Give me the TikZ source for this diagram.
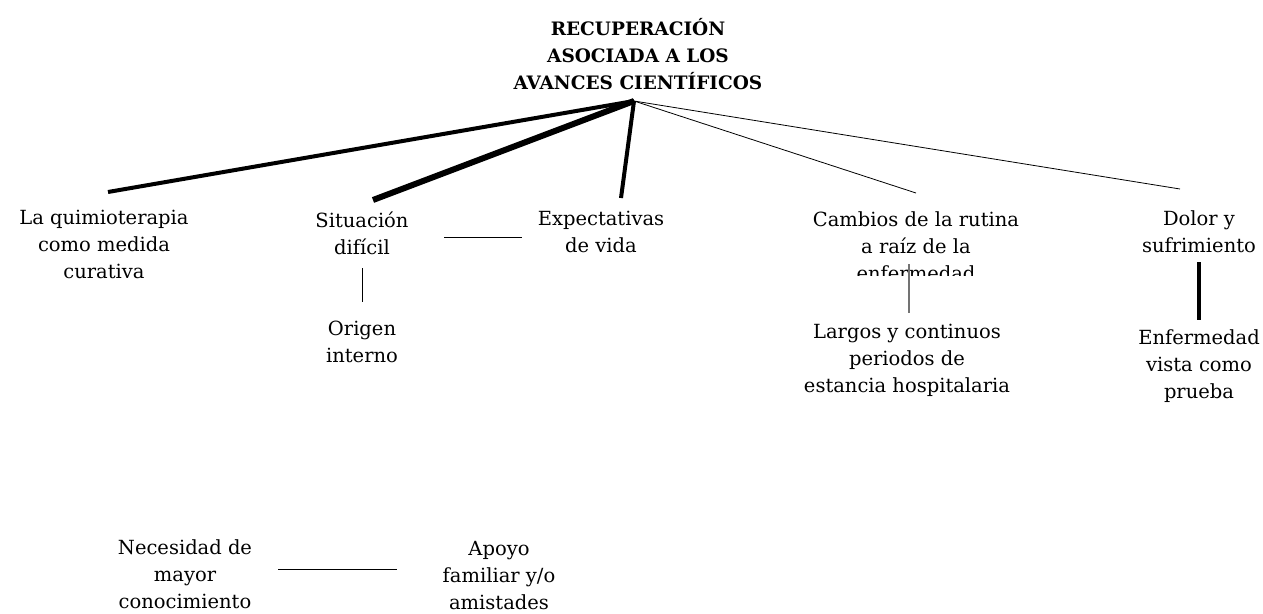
\documentclass[tikz,border=0pt]{standalone}
\usepackage{fontspec}
\setmainfont{DejaVu Serif}
\begin{document}
\begin{tikzpicture}[x=1pt,y=-1pt,
  lbl/.style={align=center,inner sep=0pt,font=\fontsize{19.5}{27}\selectfont},
  ttl/.style={align=center,inner sep=0pt,font=\fontsize{18.5}{27}\selectfont\bfseries},
  thin/.style={line width=0.8pt},
  thick/.style={line width=4pt},
  vthick/.style={line width=6pt},
  gline/.style={line width=1.2pt,draw=black!55}]
\useasboundingbox (0,0) rectangle (1263,613);
\node[ttl] (t) at (638,54) {RECUPERACIÓN\\ASOCIADA A LOS\\AVANCES CIENTÍFICOS};
\coordinate (hub) at (634,101);
\node[lbl] (q) at (104,244) {La quimioterapia\\como medida\\curativa};
\node[lbl] (s) at (362,233) {Situación\\difícil};
\node[lbl] (e) at (601,232) {Expectativas\\de vida};
\node[lbl] (o) at (362,342) {Origen\\interno};
\begin{scope}
\clip (760,200) rectangle (1070,275);
\node[lbl] (c) at (916,246) {Cambios de la rutina\\a raíz de la\\enfermedad};
\end{scope}
\node[lbl] (l) at (907,360) {Largos y continuos\\periodos de\\estancia hospitalaria};
\node[lbl] (d) at (1199,232) {Dolor y\\sufrimiento};
\node[lbl] (en) at (1199,366) {Enfermedad\\vista como\\prueba};
\node[lbl] (n) at (185,574) {Necesidad de\\mayor\\conocimiento};
\node[lbl] (a) at (499,576) {Apoyo\\familiar y/o\\amistades};
% connectors
\coordinate (qe) at (108,192);
\coordinate (se) at (373,200);
\coordinate (ee) at (621,198);
\coordinate (ce) at (916,193);
\coordinate (de) at (1180,189);
\draw[thick] (hub) -- (qe);
\draw[vthick] (hub) -- (se);
\draw[thick] (hub) -- (ee);
\draw[thin] (hub) -- (ce);
\draw[thin] (hub) -- (de);
\coordinate (h1) at (444,237);
\coordinate (h2) at (522,237);
\draw[thin] (h1) -- (h2);
\coordinate (v1) at (362,268);
\coordinate (v2) at (362,302);
\draw[thin] (v1) -- (v2);
\coordinate (g1) at (909,264);
\coordinate (g2) at (909,313);
\draw[gline] (g1) -- (g2);
\coordinate (k1) at (1199,262);
\coordinate (k2) at (1199,320);
\draw[line width=4pt] (k1) -- (k2);
\coordinate (m1) at (278,569);
\coordinate (m2) at (397,569);
\draw[thin] (m1) -- (m2);
\end{tikzpicture}
\end{document}
